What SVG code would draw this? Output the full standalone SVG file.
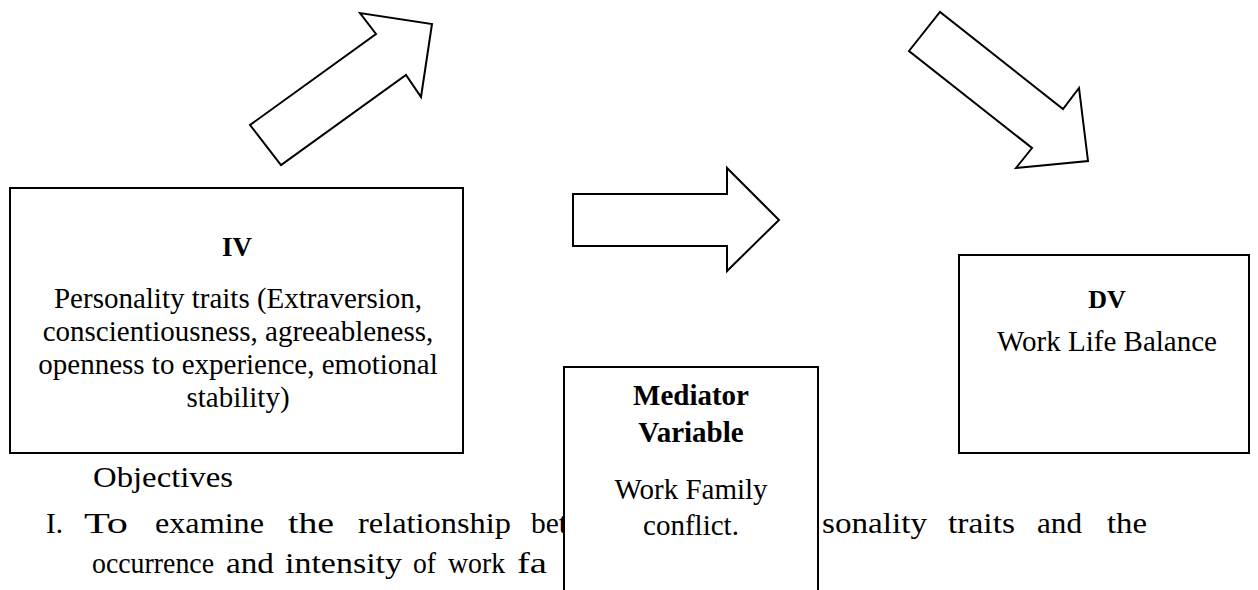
<svg xmlns="http://www.w3.org/2000/svg" width="1258" height="590" viewBox="0 0 1258 590">
<style>
.box{fill:#fff;stroke:#000;stroke-width:2}
.arrow{fill:#fff;stroke:#000;stroke-width:2;stroke-linejoin:miter}
.hd{font-family:"Liberation Serif","Times New Roman",serif;font-weight:bold;fill:#000;text-anchor:middle}
.bd{font-family:"Liberation Serif","Times New Roman",serif;font-size:29px;fill:#000;text-anchor:middle}
.ob{font-family:"Liberation Serif","Times New Roman",serif;font-size:30px;fill:#000}
</style>
<rect width="1258" height="590" fill="#fff"/>
<g id="connectors">
<polygon class="arrow" points="250,125 281,165 406,75 421,97 432,24 360,13 376,34"/>
<polygon class="arrow" points="909,51 940,12 1063,109 1079,88 1088,161 1016,168 1032,148"/>
<polygon class="arrow" points="573,194 727,194 727,168 779,220 727,271 727,246 573,246"/>
</g>
<g id="node-iv">
<rect class="box" x="10" y="188" width="453" height="265"/>
<text class="hd" x="237" y="256" font-size="27">IV</text>
<text class="bd" x="238" y="308">Personality traits (Extraversion,</text>
<text class="bd" x="238" y="341">conscientiousness, agreeableness,</text>
<text class="bd" x="238" y="374">openness to experience, emotional</text>
<text class="bd" x="238" y="407">stability)</text>
</g>
<g id="node-dv">
<rect class="box" x="959" y="255" width="290" height="198"/>
<text class="hd" x="1107" y="308" font-size="26">DV</text>
<text class="bd" x="1107" y="351">Work Life Balance</text>
</g>
<g id="objectives">
<text class="ob" x="93" y="487" font-size="33" textLength="140" lengthAdjust="spacingAndGlyphs">Objectives</text>
<text class="ob" x="46" y="533" textLength="17" lengthAdjust="spacingAndGlyphs">I.</text>
<text class="ob" x="84" y="533" textLength="44" lengthAdjust="spacingAndGlyphs">To</text>
<text class="ob" x="155" y="533" textLength="109" lengthAdjust="spacingAndGlyphs">examine</text>
<text class="ob" x="288" y="533" textLength="46" lengthAdjust="spacingAndGlyphs">the</text>
<text class="ob" x="358" y="533" textLength="153" lengthAdjust="spacingAndGlyphs">relationship</text>
<text class="ob" x="531" y="533" textLength="36" lengthAdjust="spacingAndGlyphs">bet</text>
<text class="ob" x="822" y="533" textLength="105" lengthAdjust="spacingAndGlyphs">sonality</text>
<text class="ob" x="948" y="533" textLength="67" lengthAdjust="spacingAndGlyphs">traits</text>
<text class="ob" x="1037" y="533" textLength="45" lengthAdjust="spacingAndGlyphs">and</text>
<text class="ob" x="1107" y="533" textLength="40" lengthAdjust="spacingAndGlyphs">the</text>
<text class="ob" x="92" y="573" textLength="122" lengthAdjust="spacingAndGlyphs">occurrence</text>
<text class="ob" x="226" y="573" textLength="48" lengthAdjust="spacingAndGlyphs">and</text>
<text class="ob" x="285" y="573" textLength="117" lengthAdjust="spacingAndGlyphs">intensity</text>
<text class="ob" x="413" y="573" textLength="23" lengthAdjust="spacingAndGlyphs">of</text>
<text class="ob" x="448" y="573" textLength="57" lengthAdjust="spacingAndGlyphs">work</text>
<text class="ob" x="517" y="573" textLength="30" lengthAdjust="spacingAndGlyphs">fa</text>
</g>
<g id="node-mediator">
<rect class="box" x="564" y="367" width="254" height="240"/>
<text class="hd" x="691" y="405" font-size="29">Mediator</text>
<text class="hd" x="691" y="442" font-size="29">Variable</text>
<text class="bd" x="691" y="499">Work Family</text>
<text class="bd" x="691" y="535">conflict.</text>
</g>
</svg>
